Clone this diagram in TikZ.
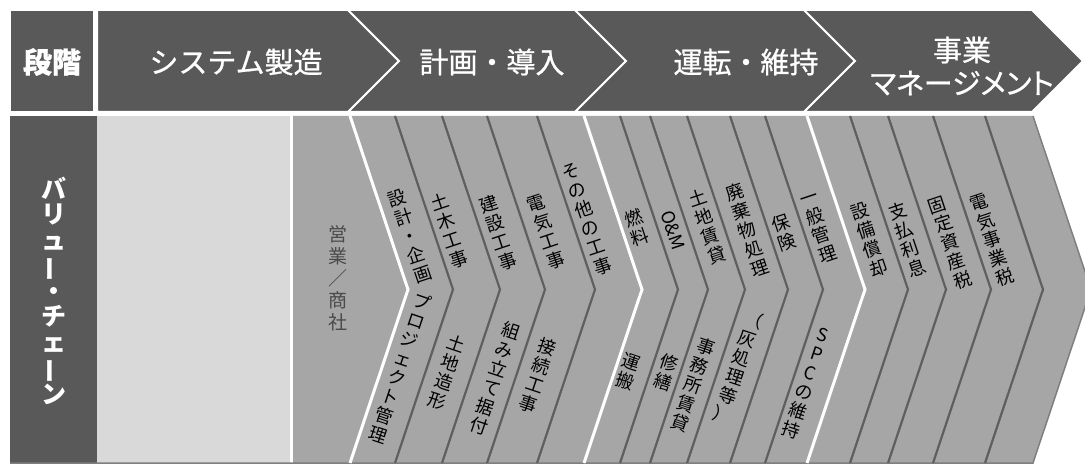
\documentclass[tikz,border=0pt]{standalone}
\usepackage{fontspec}
\setmainfont{Noto Sans CJK JP}
\usetikzlibrary{calc}

\definecolor{stagegray}{HTML}{595959}
\definecolor{palegray}{HTML}{D9D9D9}
\definecolor{midgray}{HTML}{A6A6A6}
\definecolor{linegray}{HTML}{5F5F5F}
\definecolor{edgegray}{HTML}{7F7F7F}
\definecolor{salesgray}{HTML}{4A4A4A}

\newcommand{\stagefont}{\fontsize{29}{33}\selectfont\addfontfeatures{FakeBold=0.8}}
\newcommand{\itemfont}{\fontsize{18}{20}\selectfont}
\newcommand{\chainfont}{\fontsize{25}{25.5}\selectfont\bfseries}
\newcommand{\tatebou}{\rotatebox[origin=c]{90}{ー}}

\begin{document}
\begin{tikzpicture}[x=1pt, y=-1pt]

\tikzset{every node/.style = {inner sep=0pt, align=center, font=\itemfont}}
\tikzstyle{stagebox}  = [fill=stagegray, draw=white, line width=2pt]
\tikzstyle{stagetext} = [text=white, font=\stagefont]
\tikzstyle{stageline} = [draw=white, line width=3pt]
\tikzstyle{itemline}  = [draw=linegray, line width=2.2pt]
\tikzstyle{up}        = [rotate=18.5]
\tikzstyle{down}      = [rotate=-18.5]

\useasboundingbox (0,0) rectangle (1085,465);

\path[stagebox] (10,10)  rectangle (94,112);
\path[stagebox] (97,10)  -- (348,10)  -- (399,61)  -- (348,112)  -- (97,112)  -- cycle;
\path[stagebox] (348,10) -- (575,10)  -- (626,61)  -- (575,112)  -- (348,112) -- (399,61) -- cycle;
\path[stagebox] (575,10) -- (804,10)  -- (855,61)  -- (804,112)  -- (575,112) -- (626,61) -- cycle;
\path[stagebox] (804,10) -- (1032,10) -- (1083,61) -- (1032,112) -- (804,112) -- (855,61) -- cycle;

\fill[stagegray] (10,116) rectangle (97,463);
\fill[palegray]  (97,116) rectangle (290,463);
\fill[midgray]   (293,116) -- (1033,116) -- (1091,289.5) -- (1033,463) -- (293,463) -- cycle;
\draw[edgegray, line width=1.5pt] (10,463) -- (1033,463) -- (1091,289.5) -- (1033,116);

\draw[itemline]  (395,116) -- ++(58,173.5) -- ++(-58,173.5);
\draw[itemline]  (442,116) -- ++(58,173.5) -- ++(-58,173.5);
\draw[itemline]  (487,116) -- ++(58,173.5) -- ++(-58,173.5);
\draw[itemline]  (537,116) -- ++(58,173.5) -- ++(-58,173.5);
\draw[itemline]  (620,116) -- ++(58,173.5) -- ++(-58,173.5);
\draw[itemline]  (650,116) -- ++(58,173.5) -- ++(-58,173.5);
\draw[itemline]  (687,116) -- ++(58,173.5) -- ++(-58,173.5);
\draw[itemline]  (730,116) -- ++(58,173.5) -- ++(-58,173.5);
\draw[itemline]  (765,116) -- ++(58,173.5) -- ++(-58,173.5);
\draw[itemline]  (850,116) -- ++(58,173.5) -- ++(-58,173.5);
\draw[itemline]  (888,116) -- ++(58,173.5) -- ++(-58,173.5);
\draw[itemline]  (933,116) -- ++(58,173.5) -- ++(-58,173.5);
\draw[itemline]  (985,116) -- ++(58,173.5) -- ++(-58,173.5);
\draw[stageline] (350,116) -- ++(58,173.5) -- ++(-58,173.5);
\draw[stageline] (584,116) -- ++(58,173.5) -- ++(-58,173.5);
\draw[stageline] (807,116) -- ++(58,173.5) -- ++(-58,173.5);

\node[stagetext, font=\stagefont\bfseries] (dankai) at (52,62)  {段階};
\node[stagetext] (seizo)  at (236,62) {システム製造};
\node[stagetext] (donyu)  at (492,62) {計画・導入};
\node[stagetext] (unten)  at (746,62) {運転・維持};
\node[stagetext] (jigyo)  at (962,66) {事業\\{\addfontfeatures{RawFeature=+palt}マネージメント}};

\node[text=white, font=\chainfont]                         (chain) at (54,291)  {バ\\リ\\ュ\\\tatebou\\・\\チ\\ェ\\\tatebou\\ン};
\node[text=salesgray, font=\fontsize{19}{22}\selectfont]   (sales) at (338,278) {営\\業\\／\\商\\社};

\node[up]   (sekkei)  at (410,236) {設\\計\\・\\企\\画};
\node[up]   (doboku)  at (449,231) {土\\木\\工\\事};
\node[up]   (kensetu) at (498,233) {建\\設\\工\\事};
\node[up]   (denki)   at (546,232) {電\\気\\工\\事};
\node[up]   (sonota)  at (587,219) {そ\\の\\他\\の\\工\\事};
\node[down] (pm)      at (400,368) {プ\\ロ\\ジ\\ェ\\ク\\ト\\管\\理};
\node[down] (zokei)   at (447,372) {土\\地\\造\\形};
\node[down] (suetuke) at (495,378) {組\\み\\立\\て\\据\\付};
\node[down] (setuzok) at (538,375) {接\\続\\工\\事};

\node[up]   (nenryo)  at (637,228) {燃\\料};
\node[up]   (om)      at (673,230) {\rotatebox{-90}{O\&M}};
\node[up]   (tochi)   at (707,227) {土\\地\\賃\\貸};
\node[up]   (haiki)   at (747,230) {廃\\棄\\物\\処\\理};
\node[up]   (hoken)   at (784,233) {保\\険};
\node[up]   (ippan)   at (819,229) {一\\般\\管\\理};
\node[down] (unpan)   at (628,372) {運\\搬};
\node[down] (shuzen)  at (666,372) {修\\繕};
\node[down] (jimusho) at (693,385) {事\\務\\所\\賃\\貸};
\node[down] (hai)     at (738,367) {（\\灰\\処\\理\\等\\）};
\node[down] (spc)     at (807,383) {S\\P\\C\\の\\維\\持};

\node[up]   (shokyak) at (869,240) {設\\備\\償\\却};
\node[up]   (rsoku)   at (907,240) {支\\払\\利\\息};
\node[up]   (kotei)   at (950,243) {固\\定\\資\\産\\税};
\node[up]   (jigyzei) at (992,240) {電\\気\\事\\業\\税};

\end{tikzpicture}
\end{document}
